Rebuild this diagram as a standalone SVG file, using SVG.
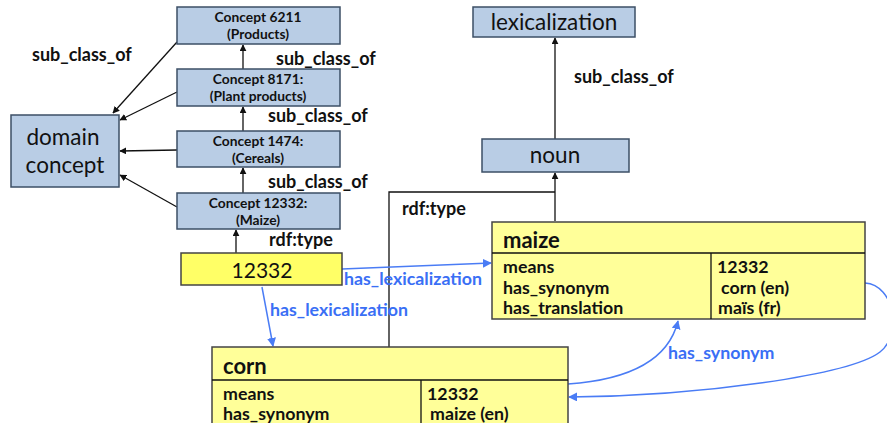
<svg xmlns="http://www.w3.org/2000/svg" width="887" height="423" viewBox="0 0 887 423">
<defs>
<style>
text{font-family:Lato,"Open Sans","Liberation Sans",sans-serif;fill:#111}
.blue{fill:#b9cde5;stroke:#3c4f66;stroke-width:1.5}
.yel{fill:#ffff99;stroke:#444;stroke-width:1.5}
.yel2{fill:#ffff66;stroke:#444;stroke-width:1.5}
.c{font-size:13.8px;font-weight:bold;text-anchor:middle}
.lbl{font-size:18px;font-weight:bold}
.big{font-size:22.5px;text-anchor:middle}
.hd{font-size:22px;font-weight:bold}
.row{font-size:17.8px;font-weight:bold}
.bl{font-size:17.8px;font-weight:bold;fill:#3a6ff5}
.k{stroke:#111;stroke-width:1.3;fill:none}
.b{stroke:#4a7cf5;stroke-width:1.5;fill:none}
</style>
<marker id="ak" viewBox="0 0 10 10" refX="9" refY="5" markerWidth="7" markerHeight="7" markerUnits="userSpaceOnUse" orient="auto"><path d="M0,0L10,5L0,10z" fill="#111"/></marker>
<marker id="ab" viewBox="0 0 10 10" refX="9" refY="5" markerWidth="9" markerHeight="9" markerUnits="userSpaceOnUse" orient="auto"><path d="M0,0L10,5L0,10z" fill="#4a7cf5"/></marker>
</defs>
<rect width="887" height="423" fill="#fff"/>
<g id="connectors">
<line class="k" x1="243" y1="69" x2="243" y2="45" marker-end="url(#ak)"/>
<line class="k" x1="243" y1="131" x2="243" y2="107" marker-end="url(#ak)"/>
<line class="k" x1="243" y1="193" x2="243" y2="168" marker-end="url(#ak)"/>
<line class="k" x1="236" y1="253" x2="236" y2="230" marker-end="url(#ak)"/>
<line class="k" x1="177" y1="42" x2="113" y2="113" marker-end="url(#ak)"/>
<line class="k" x1="177" y1="92" x2="120" y2="120" marker-end="url(#ak)"/>
<line class="k" x1="177" y1="150" x2="120" y2="151" marker-end="url(#ak)"/>
<line class="k" x1="177" y1="207" x2="120" y2="175" marker-end="url(#ak)"/>
<line class="k" x1="555" y1="139" x2="555" y2="38" marker-end="url(#ak)"/>
<line class="k" x1="555" y1="221" x2="555" y2="173" marker-end="url(#ak)"/>
<polyline class="k" points="389,347 389,192 555,192"/>
<line class="b" x1="342" y1="269" x2="491" y2="263" marker-end="url(#ab)"/>
<line class="b" x1="262" y1="287" x2="273" y2="346" marker-end="url(#ab)"/>
<path class="b" d="M568,384 C625,380 668,362 678,321" marker-end="url(#ab)"/>
<path class="b" d="M865,283 C895,285 902,335 880,352 C850,375 700,396 569,397" marker-end="url(#ab)"/>
<text class="lbl" x="32" y="61">sub_class_of</text>
<text class="lbl" x="276" y="65">sub_class_of</text>
<text class="lbl" x="268" y="122">sub_class_of</text>
<text class="lbl" x="268" y="188">sub_class_of</text>
<text class="lbl" x="269" y="246">rdf:type</text>
<text class="lbl" x="574" y="83">sub_class_of</text>
<text class="lbl" x="402" y="215">rdf:type</text>
<text class="bl" x="344" y="285">has_lexicalization</text>
<text class="bl" x="270" y="316">has_lexicalization</text>
<text class="bl" x="668" y="359">has_synonym</text>
</g>
<g id="concept6211"><rect class="blue" x="177" y="7" width="163" height="37"/><text class="c" x="258" y="22">Concept 6211</text><text class="c" x="258" y="39">(Products)</text></g>
<g id="concept8171"><rect class="blue" x="177" y="69" width="163" height="37"/><text class="c" x="258" y="84">Concept 8171:</text><text class="c" x="258" y="101">(Plant products)</text></g>
<g id="concept1474"><rect class="blue" x="177" y="131" width="163" height="36"/><text class="c" x="258" y="146">Concept 1474:</text><text class="c" x="258" y="163">(Cereals)</text></g>
<g id="concept12332"><rect class="blue" x="177" y="193" width="163" height="36"/><text class="c" x="258" y="208">Concept 12332:</text><text class="c" x="258" y="225">(Maize)</text></g>
<g id="domainconcept"><rect class="blue" x="11" y="115" width="108" height="72"/><text class="big" x="63" y="145">domain</text><text class="big" x="65" y="173">concept</text></g>
<g id="lexicalization"><rect class="blue" x="473" y="7" width="162" height="30"/><text class="big" x="554" y="30">lexicalization</text></g>
<g id="noun"><rect class="blue" x="482" y="139" width="147" height="33"/><text class="big" x="555" y="163">noun</text></g>
<g id="n12332"><rect class="yel2" x="181" y="253" width="161" height="32"/><text class="big" x="262" y="278" style="font-size:21px">12332</text></g>
<g id="maize"><rect class="yel" x="492" y="222" width="373" height="97"/><line class="k" x1="492" y1="253" x2="865" y2="253"/><line class="k" x1="711" y1="253" x2="711" y2="319"/>
<text class="hd" x="503" y="248">maize</text>
<text class="row" x="503" y="273">means</text><text class="row" x="503" y="294">has_synonym</text><text class="row" x="503" y="314">has_translation</text>
<text class="row" x="717" y="273">12332</text><text class="row" x="721" y="294">corn (en)</text><text class="row" x="718" y="314">maïs (fr)</text></g>
<g id="corn"><rect class="yel" x="212" y="347" width="356" height="90"/><line class="k" x1="212" y1="380" x2="568" y2="380"/><line class="k" x1="421" y1="380" x2="421" y2="437"/>
<text class="hd" x="223" y="374">corn</text>
<text class="row" x="223" y="400">means</text><text class="row" x="223" y="420">has_synonym</text>
<text class="row" x="427" y="400">12332</text><text class="row" x="430" y="420">maize (en)</text></g>
</svg>
